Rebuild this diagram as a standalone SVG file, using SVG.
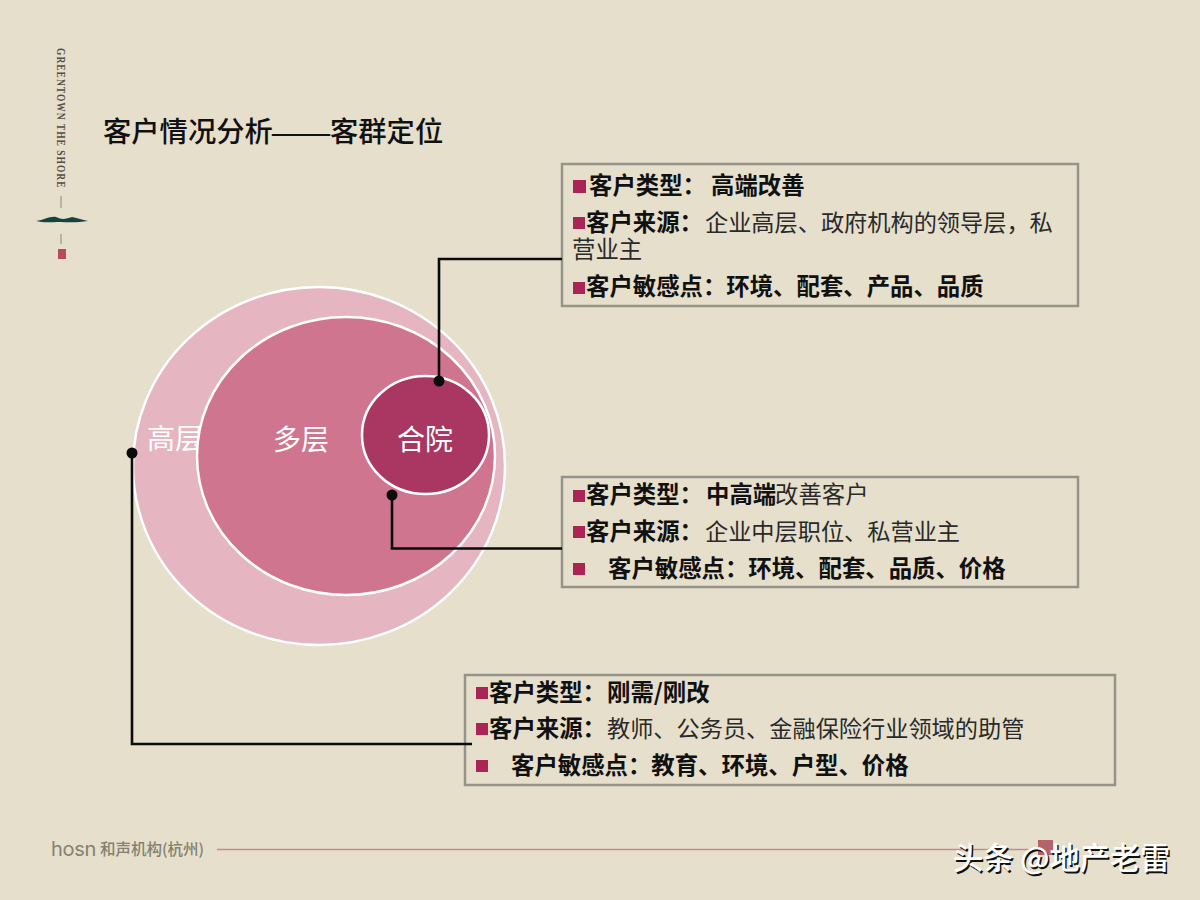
<svg xmlns="http://www.w3.org/2000/svg" width="1200" height="900" viewBox="0 0 1200 900">
<defs>
<style>
text{font-family:"Liberation Serif","Noto Sans CJK SC",serif;fill:#111}
.t{font-family:"Noto Sans CJK SC","Liberation Sans",sans-serif;font-size:23.400px}
.b{font-weight:700}
.r{font-weight:400;fill:#2a2a2a}
.box{fill:#e6dfcc;stroke:#96938a;stroke-width:2.500}
.bul{fill:#ab2456}
.c{stroke:#fff;stroke-width:2.500}
.lab{font-family:"Noto Sans CJK SC",sans-serif;font-size:28px;fill:#fff;text-anchor:middle}
.con{fill:none;stroke:#0a0a0a;stroke-width:2.600}
.dot{fill:#0a0a0a}
.wm{font-family:"Noto Sans CJK SC","Liberation Sans",sans-serif;font-size:30.200px;font-weight:500}
</style>
</defs>
<rect width="1200" height="900" fill="#e6dfcc"/>
<g id="brand">
<text transform="translate(57,48) rotate(90) scale(1,1.400)" style="font-family:'Liberation Serif',serif;font-size:9.500px;letter-spacing:1px;font-weight:700;fill:#4f5048">GREENTOWN THE SHORE</text>
<path d="M61 196V208M61 234V244" stroke="#8b8a7d" stroke-width="1"/>
<path d="M36 221C44 220 50 216 56 217C62 220 66 219 72 217C78 218 82 220 88 221C76 223 68 222 60 222C50 222 44 223 36 221Z" fill="#17433f"/>
<rect x="58" y="249" width="8" height="10" fill="#b84a5c"/>
</g>
<text id="title" x="103" y="142" style="font-family:'Noto Sans CJK SC',sans-serif;font-size:28.300px;font-weight:500">客户情况分析<tspan x="272" style="font-family:'Liberation Serif',serif;font-size:29px;font-weight:700">——</tspan><tspan x="330">客群定位</tspan></text>
<g id="node-gaoceng">
<ellipse class="c" cx="319" cy="466" rx="186" ry="179" fill="#e5b6c1"/>
<text class="lab" x="175" y="449">高层</text>
</g>
<g id="node-duoceng">
<ellipse class="c" cx="346" cy="456" rx="149" ry="139" fill="#d07590"/>
<text class="lab" x="301" y="450">多层</text>
</g>
<g id="node-heyuan">
<ellipse class="c" cx="425.500" cy="435" rx="63.500" ry="59" fill="#a93762"/>
<text class="lab" x="425" y="450">合院</text>
</g>
<g id="node-info-top">
<rect class="box" x="562" y="164" width="516" height="142"/>
<rect class="bul" x="573" y="180" width="13" height="13"/>
<text class="t b" x="589" y="194">客户类型：<tspan x="711">高端改善</tspan></text>
<rect class="bul" x="573" y="217" width="12" height="12"/>
<text class="t" x="586" y="231"><tspan class="b">客户来源：</tspan><tspan class="r" x="705" style="font-size:23.200px">企业高层、政府机构的领导层，私</tspan></text>
<text class="t r" x="572" y="258">营业主</text>
<rect class="bul" x="573" y="282" width="12" height="12"/>
<text class="t b" x="586" y="295">客户敏感点：环境、配套、产品、品质</text>
</g>
<g id="node-info-mid">
<rect class="box" x="562" y="477" width="516" height="110"/>
<rect class="bul" x="573" y="490" width="12" height="12"/>
<text class="t" x="586" y="503"><tspan class="b">客户类型：</tspan><tspan class="b" x="706">中高端</tspan><tspan class="r" x="775">改善客户</tspan></text>
<rect class="bul" x="573" y="526" width="12" height="12"/>
<text class="t" x="586" y="540"><tspan class="b">客户来源：</tspan><tspan class="r" x="705" style="font-size:23.200px">企业中层职位、私营业主</tspan></text>
<rect class="bul" x="573" y="563" width="12" height="12"/>
<text class="t b" x="608" y="577">客户敏感点：环境、配套、品质、价格</text>
</g>
<g id="node-info-low">
<rect class="box" x="465" y="675" width="650" height="110"/>
<rect class="bul" x="476" y="687" width="12" height="12"/>
<text class="t b" x="489" y="701">客户类型：<tspan x="607">刚需/刚改</tspan></text>
<rect class="bul" x="476" y="723" width="12" height="12"/>
<text class="t" x="489" y="737"><tspan class="b">客户来源：</tspan><tspan class="r" x="607" style="font-size:23.200px">教师、公务员、金融保险行业领域的助管</tspan></text>
<rect class="bul" x="476" y="760" width="12" height="12"/>
<text class="t b" x="511" y="774">客户敏感点：教育、环境、户型、价格</text>
</g>
<g id="connectors">
<path class="con" d="M562 259H439V381"/>
<circle class="dot" cx="439" cy="381" r="5.500"/>
<path class="con" d="M562 548.500H392V495"/>
<circle class="dot" cx="392" cy="495" r="5.500"/>
<path class="con" d="M472 744H132V453"/>
<circle class="dot" cx="132" cy="453" r="5.500"/>
</g>
<g id="footer">
<text x="51" y="856" style="font-family:'Inter',sans-serif;font-size:20px;letter-spacing:-0.300px;fill:#85816f">hosn</text>
<text x="100" y="855" style="font-family:'Noto Sans CJK SC',sans-serif;font-size:15.500px;font-weight:500;fill:#85816f">和声机构(杭州)</text>
<path d="M217 849.500H1040" stroke="#c98a86" stroke-width="1.500"/>
<rect x="1038" y="840" width="15" height="15" fill="#b5626a"/>
</g>
<g id="watermark">
<text class="wm" x="954.500" y="870.500" style="fill:#111">头条 @地产老雷</text>
<text class="wm" x="953" y="869" style="fill:#fff">头条 @地产老雷</text>
</g>
</svg>
